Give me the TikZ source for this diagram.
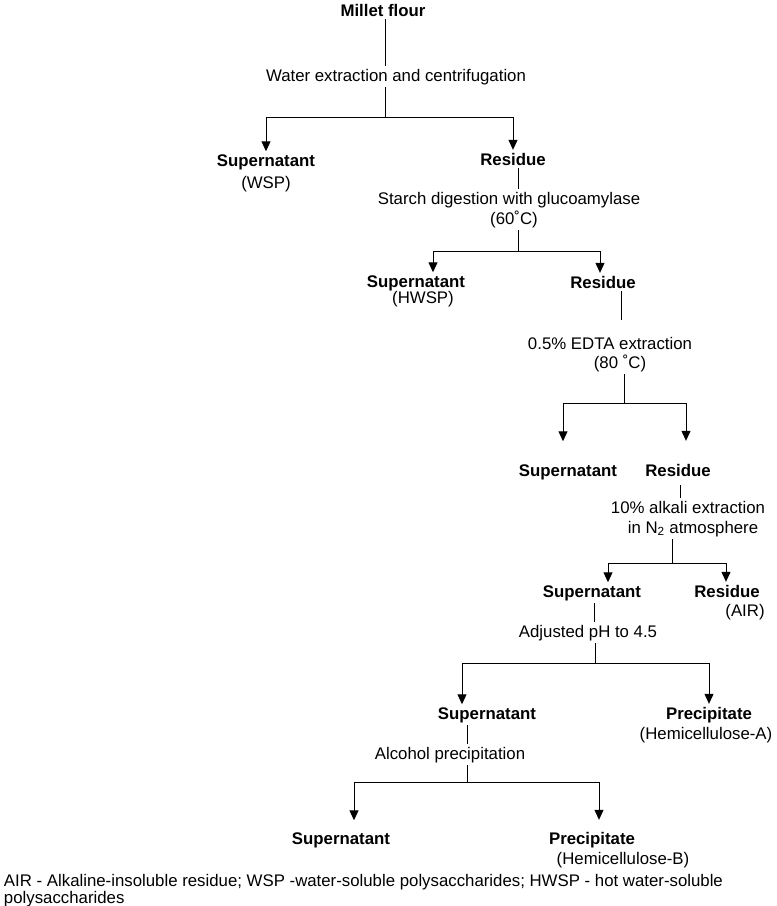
\documentclass[tikz,border=0pt]{standalone}
\usepackage{fontspec}
\setmainfont{Liberation Sans}
\usetikzlibrary{arrows.meta}
\begin{document}
\begin{tikzpicture}[x=1pt,y=-1pt,
  txt/.style={inner sep=0pt,outer sep=3pt,anchor=base,font=\fontsize{16.8}{20}\selectfont},
  hd/.style={txt,font=\fontsize{16.8}{20}\selectfont\bfseries},
  note/.style={txt,anchor=base west},
  ln/.style={line width=1pt},
  arr/.style={ln,-{Triangle[width=9pt,length=10pt]}}]
\useasboundingbox (0,0) rectangle (777,906);
% nodes
\node[hd]  (millet) at (383,16)  {Millet flour};
\node[txt] (water)  at (396,81)  {Water extraction and centrifugation};
\node[hd]  (sup1)   at (266,166) {Supernatant};
\node[txt] (wsp)    at (266,188) {(WSP)};
\node[hd]  (res1)   at (513,165) {Residue};
\node[txt] (starch) at (509,204) {Starch digestion with glucoamylase};
\node[txt] (t60)    at (514,224) {(60˚C)};
\node[hd]  (sup2)   at (416,287) {Supernatant};
\node[txt] (hwsp)   at (423,303) {(HWSP)};
\node[hd]  (res2)   at (603,288) {Residue};
\node[txt] (edta)   at (610,349) {0.5\% EDTA extraction};
\node[txt] (t80)    at (620,368) {(80 ˚C)};
\node[hd]  (sup3)   at (568,476) {Supernatant};
\node[hd]  (res3)   at (678,476) {Residue};
\node[txt] (alk)    at (688,513) {10\% alkali extraction};
\node[txt] (ntwo)   at (693,533) {in N\textsubscript{2} atmosphere};
\node[hd]  (sup4)   at (592,597) {Supernatant};
\node[hd]  (res4)   at (727,597) {Residue};
\node[txt] (air)    at (745,616) {(AIR)};
\node[txt] (ph)     at (588,637) {Adjusted pH to 4.5};
\node[hd]  (sup5)   at (487,719) {Supernatant};
\node[hd]  (prec1)  at (709,719) {Precipitate};
\node[txt] (hema)   at (706,739) {(Hemicellulose-A)};
\node[txt] (alc)    at (450,759) {Alcohol precipitation};
\node[hd]  (sup6)   at (341,844) {Supernatant};
\node[hd]  (prec2)  at (592,844) {Precipitate};
\node[txt] (hemb)   at (623,864) {(Hemicellulose-B)};
\node[note] (noteA) at (1,886) {AIR - Alkaline-insoluble residue; WSP -water-soluble polysaccharides; HWSP - hot water-soluble};
\node[note] (noteB) at (1,903) {polysaccharides};
% junctions
\coordinate (j1) at (385,117);
\coordinate (j2) at (518,251);
\coordinate (j3) at (624,403);
\coordinate (j4) at (672,563);
\coordinate (j5) at (595,663);
\coordinate (j6) at (467,782);
% level 1
\draw[ln] (millet.south -| j1) -- (water.north -| j1);
\draw[ln] (water.south -| j1) -- (j1);
\draw[arr] (j1) -| (sup1.north);
\draw[arr] (j1) -| (res1.north);
% level 2
\draw[ln] (res1.south -| j2) -- (starch.north -| j2);
\draw[ln] (t60.south -| j2) -- (j2);
\draw[arr] (j2) -| ([xshift=17pt]sup2.north);
\draw[arr] (j2) -| ([xshift=-3pt]res2.north);
% level 3
\draw[ln,shorten >=14pt] ([xshift=18pt]res2.south) -- ([xshift=18pt]res2.south |- edta.north);
\draw[ln] (t80.south -| j3) -- (j3);
\draw[arr,shorten >=20pt] (j3) -| ([xshift=-5pt]sup3.north);
\draw[arr,shorten >=20pt] (j3) -| ([xshift=8pt]res3.north);
% level 4
\draw[ln,shorten <=6pt] ([xshift=2pt]res3.south) -- ([xshift=2pt]res3.south |- alk.north);
\draw[ln] (ntwo.south -| j4) -- (j4);
\draw[arr] (j4) -| ([xshift=16pt]sup4.north);
\draw[arr] (j4) -| ([xshift=-1pt]res4.north);
% level 5
\draw[ln] ([xshift=2pt]sup4.south) -- ([xshift=2pt]sup4.south |- ph.north);
\draw[ln] (ph.south -| j5) -- (j5);
\draw[arr] (j5) -| ([xshift=-25pt]sup5.north);
\draw[arr] (j5) -| (prec1.north);
% level 6
\draw[ln] ([xshift=-20pt]sup5.south) -- ([xshift=-20pt]sup5.south |- alc.north);
\draw[ln] (alc.south -| j6) -- (j6);
\draw[arr,shorten >=9pt] (j6) -| ([xshift=13pt]sup6.north);
\draw[arr,shorten >=9pt] (j6) -| ([xshift=7pt]prec2.north);
\end{tikzpicture}
\end{document}
